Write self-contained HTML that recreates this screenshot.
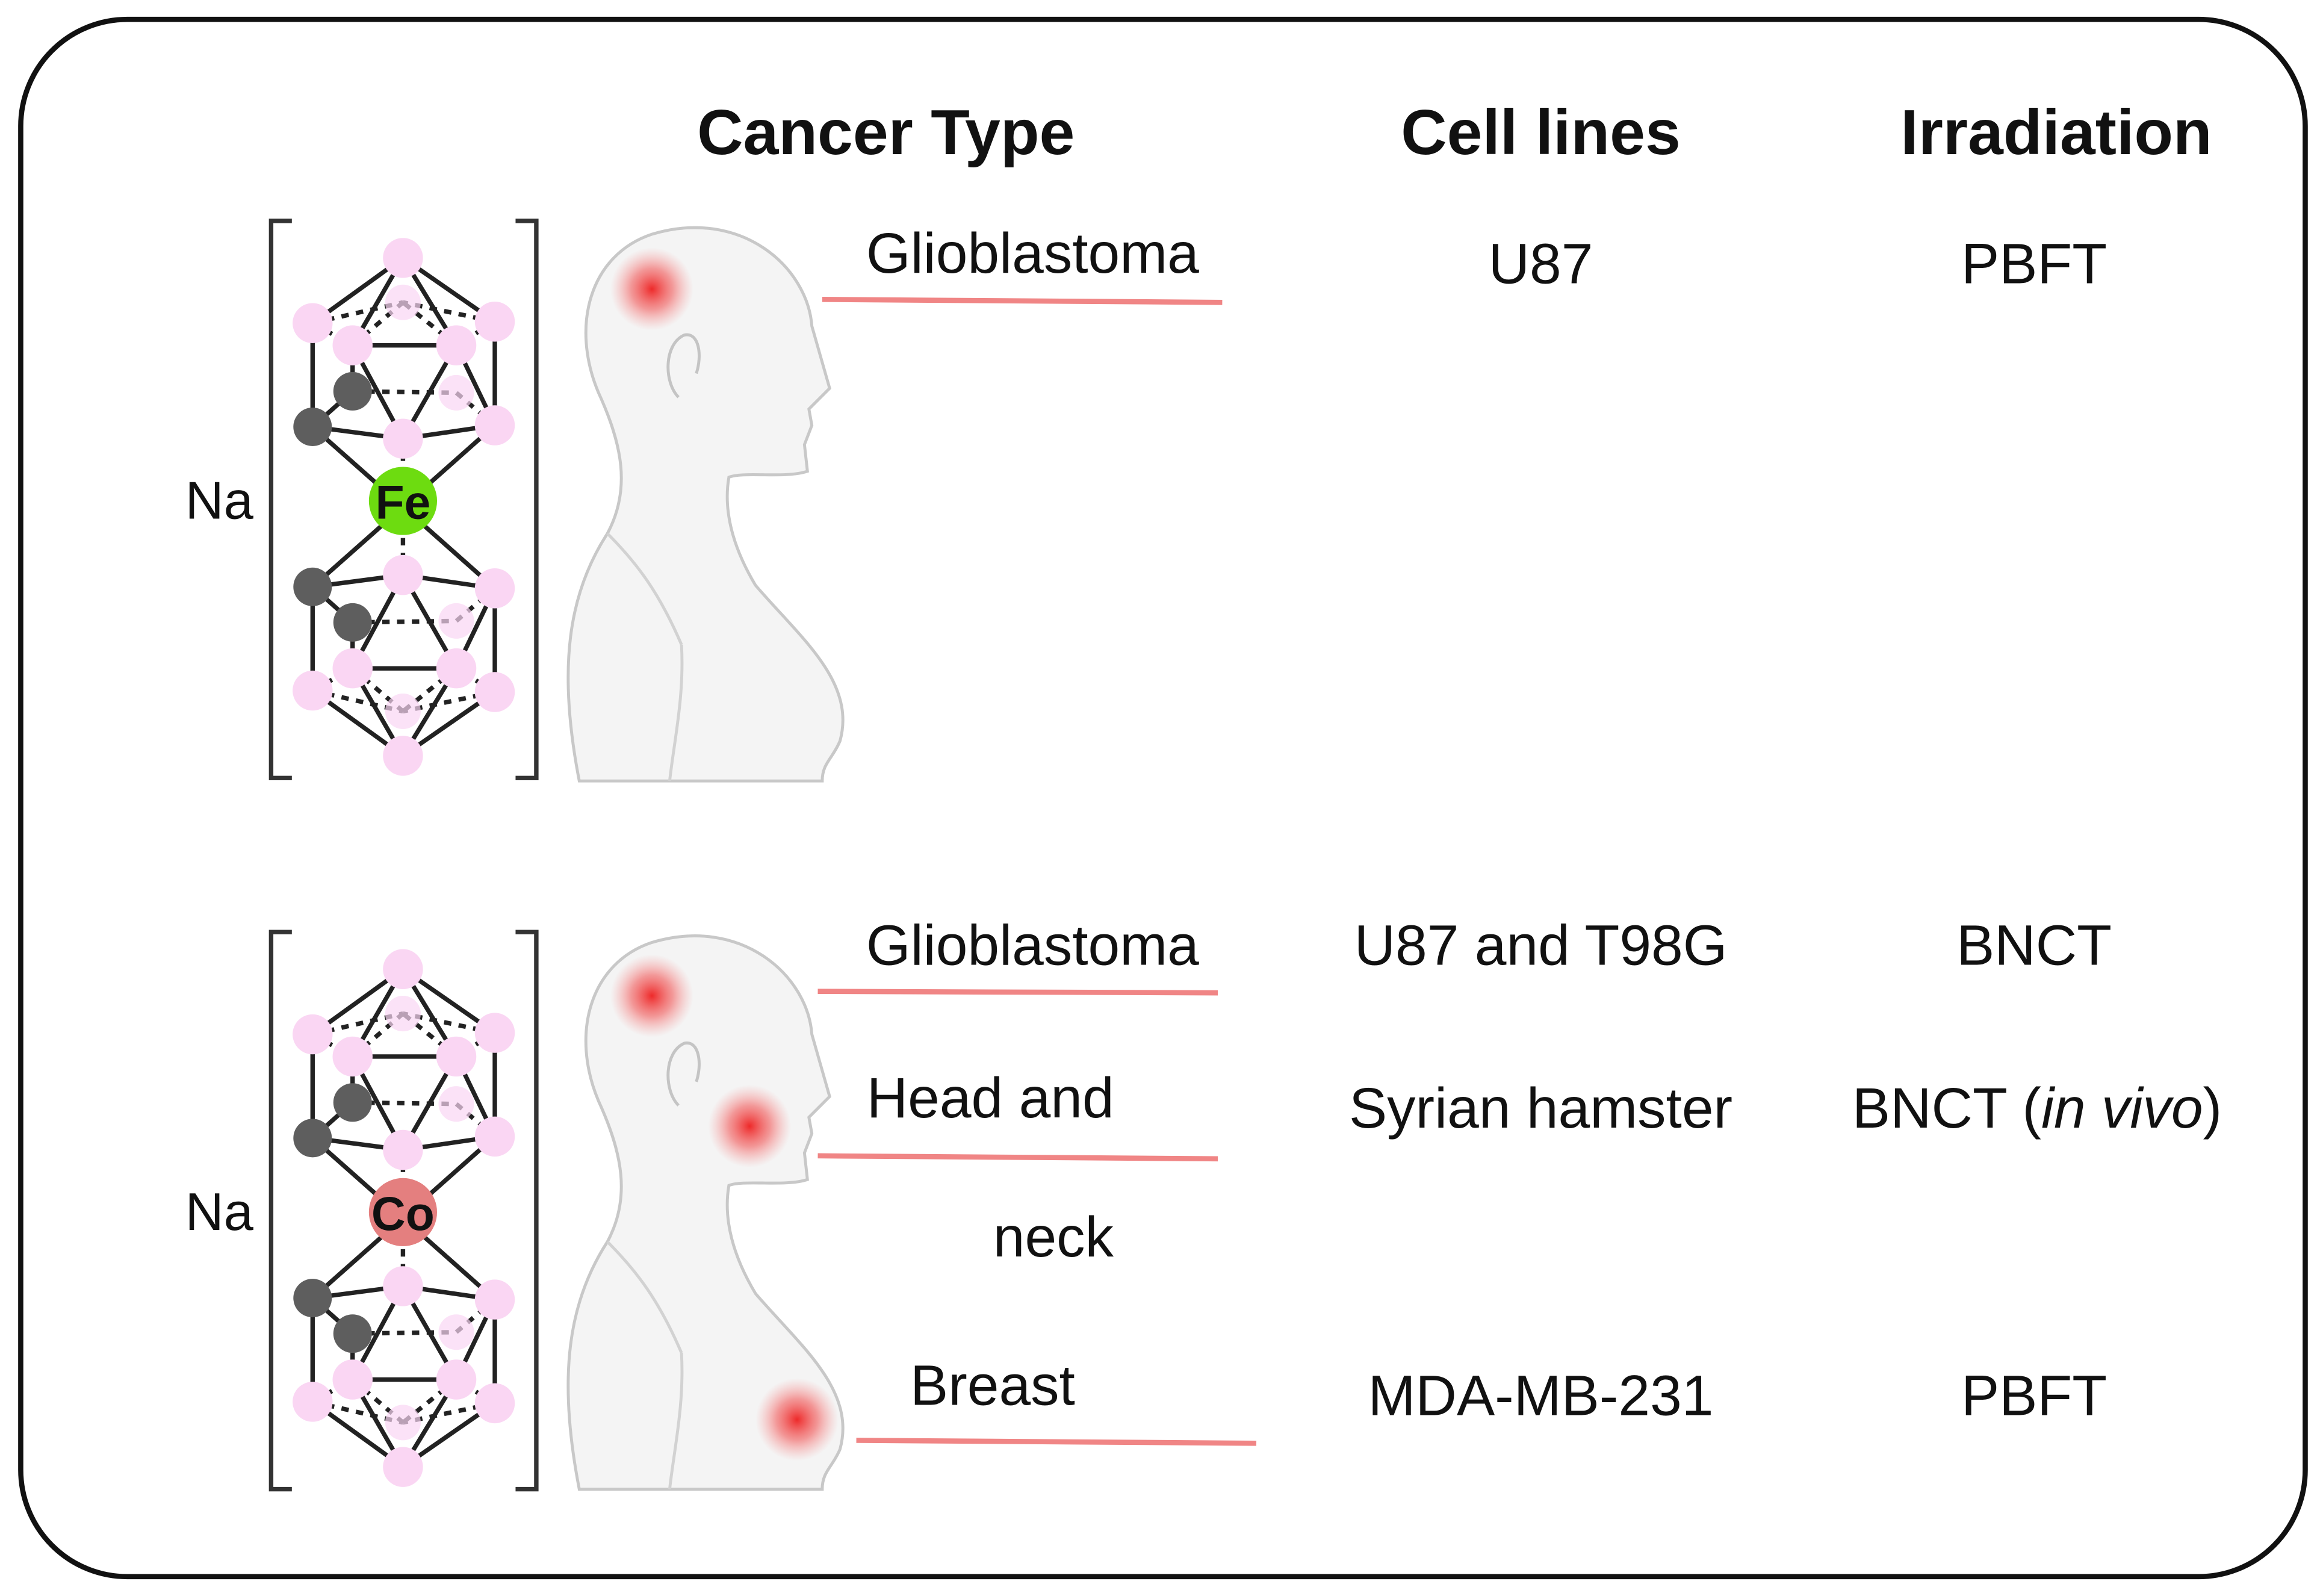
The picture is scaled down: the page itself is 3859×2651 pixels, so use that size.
<!DOCTYPE html>
<html><head><meta charset="utf-8"><style>
html,body{margin:0;padding:0;background:#fff}
svg{display:block}
text{font-family:"Liberation Sans",Arial,sans-serif;fill:#111}
</style></head><body>
<svg width="3859" height="2651" viewBox="0 0 1568 1077" xmlns="http://www.w3.org/2000/svg">
<defs>
<radialGradient id="spot"><stop offset="0" stop-color="#ee2a2a"/><stop offset="0.5" stop-color="#f27070" stop-opacity="0.7"/><stop offset="1" stop-color="#f7a0a0" stop-opacity="0"/></radialGradient>
<g id="half">
<g stroke="#222" stroke-width="3" fill="none">
<line x1="272" y1="174" x2="211" y2="218"/><line x1="272" y1="174" x2="238" y2="233"/>
<line x1="272" y1="174" x2="308" y2="233"/><line x1="272" y1="174" x2="334" y2="217"/>
<line x1="211" y1="218" x2="211" y2="288"/><line x1="334" y1="217" x2="334" y2="287"/>
<line x1="238" y1="233" x2="308" y2="233"/><line x1="238" y1="233" x2="272" y2="296"/>
<line x1="308" y1="233" x2="272" y2="296"/><line x1="211" y1="288" x2="272" y2="296"/>
<line x1="334" y1="287" x2="272" y2="296"/><line x1="211" y1="288" x2="272" y2="342"/>
<line x1="334" y1="287" x2="272" y2="342"/><line x1="308" y1="233" x2="334" y2="287"/>
<line x1="238" y1="264" x2="211" y2="288"/><line x1="238" y1="233" x2="238" y2="264"/>
</g>
<g stroke="#222" stroke-width="3" fill="none" stroke-dasharray="5,5">
<line x1="211" y1="218" x2="238" y2="233"/><line x1="334" y1="217" x2="308" y2="233"/>
<line x1="211" y1="218" x2="272" y2="204"/><line x1="334" y1="217" x2="272" y2="204"/>
<line x1="238" y1="264" x2="308" y2="265"/><line x1="238" y1="233" x2="272" y2="204"/>
<line x1="308" y1="233" x2="272" y2="204"/><line x1="272" y1="296" x2="272" y2="342"/>
<line x1="308" y1="265" x2="334" y2="287"/>
</g>
<g fill="#fad6f3">
<circle cx="272" cy="204" r="12" opacity="0.7"/><circle cx="308" cy="265" r="12" opacity="0.7"/>
<circle cx="272" cy="174" r="13.5"/><circle cx="211" cy="218" r="13.5"/><circle cx="334" cy="217" r="13.5"/>
<circle cx="238" cy="233" r="13.5"/><circle cx="308" cy="233" r="13.5"/><circle cx="334" cy="287" r="13.5"/>
<circle cx="272" cy="296" r="13.5"/>
</g>
<circle cx="238" cy="264" r="13" fill="#5e5e5e"/><circle cx="211" cy="288" r="13" fill="#5e5e5e"/>
</g>
<g id="cage">
<use href="#half"/>
<use href="#half" transform="translate(0,684) scale(1,-1)"/>
<path d="M197 149 H183 V525 H197 M348 149 H362 V525 H348" stroke="#333" stroke-width="3" fill="none"/>
</g>
<g id="body">
<path d="M391 527 C376 450,384 400,410 360 C426 330,420 300,404 265 C385 220,398 172,440 158 C500 140,545 180,548 220 L560 262 L546 276 L548 287 L543 300 L545 318 C530 323,502 318,492 322 C488 345,495 370,510 395 C540 430,578 460,567 500 C562 512,555 515,555 527 Z" fill="#f4f4f4" stroke="#c8c8c8" stroke-width="2"/>
<path d="M458 268 C448 258,448 232,462 226 C472 224,474 240,470 252" fill="none" stroke="#c4c4c4" stroke-width="2"/>
<path d="M460 435 C462 470,455 500,452 527" fill="none" stroke="#d2d2d2" stroke-width="2"/>
<path d="M410 360 C430 380,445 400,460 435" fill="none" stroke="#d2d2d2" stroke-width="2"/>
</g>
</defs>
<rect x="14" y="13" width="1542" height="1051" rx="72" fill="#fff" stroke="#111" stroke-width="3.5"/>

<text x="598" y="104" font-size="43" font-weight="bold" text-anchor="middle">Cancer Type</text>
<text x="1040" y="104" font-size="43" font-weight="bold" text-anchor="middle">Cell lines</text>
<text x="1388" y="104" font-size="43" font-weight="bold" text-anchor="middle">Irradiation</text>

<use href="#cage"/>
<circle cx="272" cy="338" r="23" fill="#6ddc10"/>
<text x="272" y="350" font-size="32" font-weight="bold" text-anchor="middle">Fe</text>
<text x="148" y="350" font-size="36" text-anchor="middle">Na</text>

<use href="#cage" transform="translate(0,480)"/>
<circle cx="272" cy="818" r="23" fill="#e47f7f"/>
<text x="272" y="830" font-size="32" font-weight="bold" text-anchor="middle">Co</text>
<text x="148" y="830" font-size="36" text-anchor="middle">Na</text>

<use href="#body"/>
<circle cx="440" cy="195" r="28" fill="url(#spot)"/>
<use href="#body" transform="translate(0,478)"/>
<circle cx="440" cy="672" r="28" fill="url(#spot)"/>
<circle cx="506" cy="760" r="28" fill="url(#spot)"/>
<circle cx="538" cy="958" r="28" fill="url(#spot)"/>

<g stroke="#f08585" stroke-width="3.5">
<line x1="555" y1="202" x2="825" y2="204"/>
<line x1="552" y1="669" x2="822" y2="670"/>
<line x1="552" y1="780" x2="822" y2="782"/>
<line x1="578" y1="972" x2="848" y2="974"/>
</g>

<g font-size="38.5">
<text x="697" y="184" text-anchor="middle">Glioblastoma</text>
<text x="1040" y="191" text-anchor="middle">U87</text>
<text x="1373" y="191" text-anchor="middle">PBFT</text>
<text x="697" y="651" text-anchor="middle">Glioblastoma</text>
<text x="1040" y="651" text-anchor="middle">U87 and T98G</text>
<text x="1373" y="651" text-anchor="middle">BNCT</text>
<text x="585" y="754">Head and</text>
<text x="1040" y="761" text-anchor="middle">Syrian hamster</text>
<text x="1375" y="761" text-anchor="middle">BNCT (<tspan font-style="italic">in vivo</tspan>)</text>
<text x="711" y="848" text-anchor="middle">neck</text>
<text x="670" y="948" text-anchor="middle">Breast</text>
<text x="1040" y="955" text-anchor="middle">MDA-MB-231</text>
<text x="1373" y="955" text-anchor="middle">PBFT</text>
</g>
</svg>
</body></html>
